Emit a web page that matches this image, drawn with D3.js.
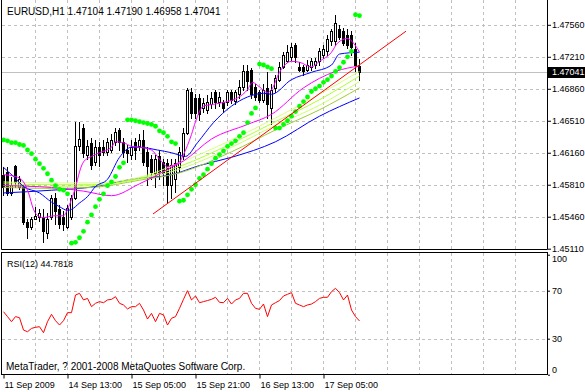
<!DOCTYPE html>
<html>
<head>
<meta charset="utf-8">
<script src="https://cdn.jsdelivr.net/npm/d3@7"></script>
<style>
  body { margin: 0; background: #fff; }
  text { font-family: 'Liberation Sans', Arial, sans-serif; font-size: 10px; fill: #000; }
  .small text, text.small { font-size: 9px; }
</style>
</head>
<body>
<svg id="chart" width="585" height="392"></svg>
<script>
const symbol = 'EURUSD,H1';

// hourly bars, 11 Sep 21:00 .. 17 Sep 14:00
const open = [
  1.4592, 1.4595, 1.4572, 1.4601, 1.4578, 1.4578, 1.4540, 1.4535, 1.4544, 1.4546,
  1.4546, 1.4528, 1.4546, 1.4567, 1.4554, 1.4546, 1.4535, 1.4546, 1.4567, 1.4623,
  1.4643, 1.4614, 1.4627, 1.4606, 1.4622, 1.4622, 1.4617, 1.4619, 1.4628, 1.4641,
  1.4628, 1.4619, 1.4614, 1.4628, 1.4623, 1.4630, 1.4617, 1.4609, 1.4594, 1.4612,
  1.4606, 1.4605, 1.4581, 1.4587, 1.4600, 1.4612, 1.4638, 1.4682, 1.4676, 1.4676,
  1.4665, 1.4663, 1.4669, 1.4682, 1.4671, 1.4671, 1.4671, 1.4683, 1.4673, 1.4680,
  1.4688, 1.4705, 1.4707, 1.4688, 1.4682, 1.4674, 1.4687, 1.4665, 1.4687, 1.4696,
  1.4710, 1.4716, 1.4721, 1.4734, 1.4710, 1.4710, 1.4707, 1.4710, 1.4712, 1.4716,
  1.4723, 1.4727, 1.4738, 1.4738, 1.4751, 1.4749, 1.4745, 1.4745, 1.4729, 1.47104
];
const high = [
  1.4600, 1.4600, 1.4589, 1.4603, 1.4591, 1.4581, 1.4543, 1.4546, 1.4557, 1.4554,
  1.4554, 1.4550, 1.4570, 1.4572, 1.4559, 1.4552, 1.4559, 1.4570, 1.4650, 1.4650,
  1.4647, 1.4630, 1.4632, 1.4630, 1.4628, 1.4630, 1.4632, 1.4636, 1.4643, 1.4643,
  1.4632, 1.4625, 1.4630, 1.4632, 1.4636, 1.4641, 1.4622, 1.4614, 1.4614, 1.4619,
  1.4609, 1.4609, 1.4609, 1.4609, 1.4622, 1.4643, 1.4687, 1.4687, 1.4680, 1.4680,
  1.4676, 1.4679, 1.4683, 1.4685, 1.4682, 1.4674, 1.4685, 1.4685, 1.4685, 1.4696,
  1.4712, 1.4712, 1.4709, 1.4691, 1.4685, 1.4691, 1.4704, 1.4691, 1.4701, 1.4715,
  1.4726, 1.4734, 1.4736, 1.4736, 1.4715, 1.4712, 1.4718, 1.4720, 1.4720, 1.4731,
  1.4734, 1.4745, 1.4751, 1.4767, 1.4756, 1.4753, 1.4751, 1.4749, 1.4736, 1.47190
];
const low = [
  1.4570, 1.4570, 1.4570, 1.4579, 1.4576, 1.4538, 1.4523, 1.4533, 1.4543, 1.4541,
  1.4518, 1.4523, 1.4543, 1.4538, 1.4534, 1.4532, 1.4534, 1.4543, 1.4565, 1.4619,
  1.4611, 1.4609, 1.4598, 1.4603, 1.4601, 1.4614, 1.4614, 1.4617, 1.4625, 1.4619,
  1.4611, 1.4606, 1.4609, 1.4609, 1.4619, 1.4603, 1.4581, 1.4587, 1.4579, 1.4587,
  1.4581, 1.4561, 1.4567, 1.4573, 1.4595, 1.4609, 1.4636, 1.4654, 1.4654, 1.4652,
  1.4661, 1.4659, 1.4665, 1.4665, 1.4667, 1.4661, 1.4668, 1.4670, 1.4669, 1.4676,
  1.4685, 1.4685, 1.4676, 1.4674, 1.4671, 1.4671, 1.4654, 1.4647, 1.4683, 1.4694,
  1.4709, 1.4715, 1.4718, 1.4715, 1.4705, 1.4701, 1.4705, 1.4707, 1.4709, 1.4712,
  1.4720, 1.4723, 1.4734, 1.4734, 1.4740, 1.4734, 1.4731, 1.4723, 1.4705, 1.46958
];
const close = [
  1.4578, 1.4572, 1.4581, 1.4584, 1.4587, 1.4540, 1.4535, 1.4544, 1.4547, 1.4550,
  1.4530, 1.4543, 1.4567, 1.4552, 1.4538, 1.4538, 1.4556, 1.4567, 1.4623, 1.4631,
  1.4616, 1.4623, 1.4603, 1.4622, 1.4614, 1.4617, 1.4628, 1.4630, 1.4639, 1.4628,
  1.4617, 1.4616, 1.4622, 1.4619, 1.4630, 1.4606, 1.4601, 1.4595, 1.4609, 1.4595,
  1.4594, 1.4581, 1.4603, 1.4605, 1.4617, 1.4638, 1.4685, 1.4660, 1.4660, 1.4658,
  1.4670, 1.4672, 1.4676, 1.4671, 1.4677, 1.4665, 1.4683, 1.4674, 1.4683, 1.4688,
  1.4705, 1.4694, 1.4680, 1.4677, 1.4674, 1.4685, 1.4669, 1.4685, 1.4698, 1.4710,
  1.4723, 1.4726, 1.4732, 1.4721, 1.4707, 1.4705, 1.4712, 1.4716, 1.4716, 1.4727,
  1.4729, 1.4740, 1.4749, 1.4758, 1.4743, 1.4736, 1.4734, 1.4732, 1.4712, 1.47041
];

// Parabolic SAR, one dot per bar
const sar = [
  1.4630, 1.4629, 1.4627, 1.4627, 1.4625, 1.4624, 1.4619, 1.4615, 1.4609, 1.4604,
  1.4599, 1.4593, 1.4586, 1.4580, 1.4576, 1.4575, 1.4571, 1.4517, 1.4518, 1.4523,
  1.4530, 1.4540, 1.4548, 1.4557, 1.4565, 1.4571, 1.4580, 1.4584, 1.4590, 1.4600,
  1.4605, 1.4652, 1.4652, 1.4651, 1.4650, 1.4649, 1.4648, 1.4647, 1.4645, 1.4640,
  1.4638, 1.4634, 1.4628, 1.4626, 1.4563, 1.4564, 1.4570, 1.4576, 1.4581, 1.4588,
  1.4592, 1.4598, 1.4604, 1.4610, 1.4614, 1.4618, 1.4623, 1.4626, 1.4629, 1.4634,
  1.4638, 1.4649, 1.4659, 1.4665, 1.4713, 1.4712, 1.4710, 1.4708, 1.4643, 1.4643,
  1.4647, 1.4651, 1.4656, 1.4661, 1.4667, 1.4672, 1.4677, 1.4683, 1.4686, 1.4689,
  1.4693, 1.4696, 1.4700, 1.4705, 1.4709, 1.4715, 1.4721, 1.4727, 1.4767, 1.4766
];

const rsi = [
  52.5, 48.4, 44.2, 48.4, 47.5, 37.2, 35.8, 38.6, 39.5, 40.0,
  35.0, 44.2, 50.3, 45.0, 41.4, 45.0, 51.7, 51.7, 66.4, 67.8,
  62.3, 63.6, 56.7, 59.5, 60.9, 60.0, 62.3, 62.8, 65.0, 59.5,
  58.1, 54.8, 56.7, 56.7, 59.5, 53.9, 46.4, 51.1, 44.2, 51.1,
  49.8, 41.4, 47.0, 48.4, 55.3, 62.8, 70.0, 62.3, 65.6, 60.0,
  60.9, 61.8, 62.8, 64.5, 60.3, 60.0, 63.6, 58.9, 62.3, 63.6,
  67.8, 67.8, 59.5, 55.3, 54.5, 58.9, 48.4, 58.1, 60.0, 61.8,
  65.6, 67.0, 68.4, 59.5, 58.1, 56.7, 58.1, 58.9, 60.9, 63.6,
  64.5, 64.5, 69.2, 72.0, 68.4, 62.3, 66.4, 53.9, 48.4, 44.7818
];

// moving averages as [bar, price]
const maMagentaFast = [
  [0, 1.4592], [3, 1.4590], [5, 1.4584], [6.25, 1.4572], [7.5, 1.4554], [9, 1.4546],
  [10, 1.4545], [12.5, 1.4547], [15, 1.4547], [16, 1.4554], [17, 1.4565], [18, 1.4578],
  [19, 1.4595], [20, 1.4606], [22, 1.4612], [24, 1.4616], [27, 1.4622], [28, 1.4628],
  [30, 1.4627], [32, 1.4623], [34, 1.4622], [37, 1.4619], [39, 1.4609], [41, 1.4601],
  [44, 1.4606], [45, 1.4614], [47, 1.4636], [48, 1.4650], [50, 1.4667], [52.5, 1.4669],
  [56, 1.4672], [58.5, 1.4676], [61, 1.4685], [62.25, 1.4693], [64, 1.4688], [66, 1.4682],
  [67, 1.4685], [69, 1.4704], [72, 1.4716], [74, 1.4715], [77, 1.4710], [79, 1.4716],
  [82, 1.4726], [83.5, 1.4736], [86, 1.4741], [87.5, 1.4736], [89, 1.4726]
];
const maBlueMid = [
  [0, 1.4600], [2.5, 1.4590], [5, 1.4579], [9, 1.4572], [12, 1.4562], [14, 1.4557],
  [16, 1.4553], [17, 1.4554], [19, 1.4561], [21, 1.4568], [23, 1.4579], [26, 1.4587],
  [29, 1.4611], [32, 1.4622], [34, 1.4622], [38.5, 1.4619], [42, 1.4616], [45.5, 1.4612],
  [48.5, 1.4627], [52.5, 1.4649], [57, 1.4667], [61, 1.4677], [65, 1.4681], [67, 1.4680],
  [72, 1.4696], [77, 1.4704], [82, 1.4712], [84, 1.4724], [89, 1.4726]
];
const maMagentaSlow = [
  [0, 1.4580], [12, 1.4578], [20, 1.4574], [27, 1.4569], [34, 1.4582], [42, 1.4600],
  [45, 1.4607], [52, 1.4631], [61, 1.4647], [67, 1.4658], [75, 1.4687], [83, 1.4705], [89, 1.4711]
];
const maGreen1 = [[0, 1.4584], [12, 1.4583], [22, 1.4583], [34, 1.4589], [44, 1.4605], [57, 1.4630], [68, 1.4654], [79, 1.4680], [89, 1.4705]];
const maGreen2 = [[0, 1.4582], [12, 1.4581], [22, 1.4581], [34, 1.4588], [44, 1.4601], [57, 1.4626], [68, 1.4650], [79, 1.4674], [89, 1.4700]];
const maGreen3 = [[0, 1.4580], [12, 1.4579], [22, 1.4580], [34, 1.4587], [44, 1.4598], [57, 1.4622], [68, 1.4646], [79, 1.4668], [89, 1.4694]];
const maGreen4 = [[0, 1.4578], [12, 1.4577], [22, 1.4578], [34, 1.4586], [44, 1.4594], [57, 1.4617], [68, 1.4641], [79, 1.4663], [89, 1.4687]];
const maBlueSlow = [
  [0, 1.4572], [12, 1.4575], [23, 1.4579], [32, 1.4587], [42, 1.4592], [49, 1.4602],
  [57, 1.4611], [68, 1.4628], [79, 1.4656], [89, 1.4676]
];
const trendLine = [[37.5, 1.4549], [100.75, 1.4749]];

const priceTicks = [1.47560, 1.47210, 1.46860, 1.46510, 1.46160, 1.45810, 1.45460, 1.45110];
const rsiTicks = [100, 70, 30, 0];
const rsiGrid = [70, 30];
const timeBars = [0, 16, 32, 48, 64, 80];
const timeLabels = ['11 Sep 2009', '14 Sep 13:00', '15 Sep 05:00', '15 Sep 21:00', '16 Sep 13:00', '17 Sep 05:00'];

const svg = d3.select('#chart');
const left = 2, right = 548;
const mainBottom = 250, rsiTop = 253, rsiBottom = 375;

const x = d3.scaleLinear().domain([0, 136.25]).range([3, right]);
const y = d3.scaleLinear().domain([1.4511, 1.4756]).range([248.7, 24.8]);
const yR = d3.scaleLinear().domain([0, 100]).range([374.7, 254.7]);
const crisp = v => Math.round(v) + 0.5;
const fmt5 = d3.format('.5f');

svg.append('rect').attr('width', 585).attr('height', 392).attr('fill', '#fff');

svg.append('clipPath').attr('id', 'main-clip')
  .append('rect').attr('x', left).attr('y', 0).attr('width', right - left).attr('height', mainBottom);
svg.append('clipPath').attr('id', 'rsi-clip')
  .append('rect').attr('x', left).attr('y', rsiTop).attr('width', right - left).attr('height', rsiBottom - rsiTop);

// grid
const grid = svg.append('g')
  .attr('stroke', '#c0c0c0')
  .attr('stroke-dasharray', '3,3')
  .attr('fill', 'none');

const vBars = d3.range(8, 137, 8);
grid.selectAll('.vmain').data(vBars).join('line')
  .attr('x1', d => crisp(x(d))).attr('x2', d => crisp(x(d)))
  .attr('y1', 0).attr('y2', mainBottom);
grid.selectAll('.vrsi').data(vBars).join('line')
  .attr('x1', d => crisp(x(d))).attr('x2', d => crisp(x(d)))
  .attr('y1', rsiTop).attr('y2', rsiBottom);
grid.selectAll('.hmain').data(priceTicks).join('line')
  .attr('x1', left).attr('x2', right)
  .attr('y1', d => crisp(y(d))).attr('y2', d => crisp(y(d)));
grid.selectAll('.hrsi').data(rsiGrid).join('line')
  .attr('x1', left).attr('x2', right)
  .attr('y1', d => crisp(yR(d))).attr('y2', d => crisp(yR(d)));

const last = close.length - 1;
const main = svg.append('g').attr('clip-path', 'url(#main-clip)');

// bid line
main.append('line')
  .attr('x1', left).attr('x2', right)
  .attr('y1', crisp(y(close[last]))).attr('y2', crisp(y(close[last])))
  .attr('stroke', '#c0c0c0');

// candles
const bars = d3.range(close.length);
const candle = main.append('g').selectAll('g').data(bars).join('g');

candle.append('line')
  .attr('x1', i => x(i) + 0.5).attr('x2', i => x(i) + 0.5)
  .attr('y1', i => Math.round(y(high[i]))).attr('y2', i => Math.round(y(low[i])) + 1)
  .attr('stroke', '#000');

candle.append('rect')
  .attr('x', i => x(i) - 0.5)
  .attr('width', 2)
  .attr('y', i => crisp(y(Math.max(open[i], close[i]))))
  .attr('height', i => Math.round(y(Math.min(open[i], close[i]))) - Math.round(y(Math.max(open[i], close[i]))))
  .attr('fill', i => close[i] >= open[i] ? '#fff' : '#000')
  .attr('stroke', '#000');

// indicators
const maLine = d3.line()
  .x(d => x(d[0]) + 0.5)
  .y(d => y(d[1]))
  .curve(d3.curveMonotoneX);

const maSeries = [
  { data: maBlueSlow, color: '#0000ff' },
  { data: maGreen4, color: '#9acd32' },
  { data: maGreen3, color: '#ccff66' },
  { data: maGreen2, color: '#adff2f' },
  { data: maGreen1, color: '#d8ff7a' },
  { data: maMagentaSlow, color: '#ff00ff' },
  { data: maBlueMid, color: '#0000ff' },
  { data: maMagentaFast, color: '#ff00ff' }
];

main.append('g').selectAll('path').data(maSeries).join('path')
  .attr('d', d => maLine(d.data))
  .attr('fill', 'none')
  .attr('stroke', d => d.color)
  .attr('stroke-width', 1);

main.append('g').selectAll('circle').data(bars).join('circle')
  .attr('cx', i => x(i) + 0.5)
  .attr('cy', i => y(sar[i]))
  .attr('r', 2.4)
  .attr('fill', '#00ff00');

main.append('line')
  .attr('x1', x(trendLine[0][0])).attr('y1', y(trendLine[0][1]))
  .attr('x2', x(trendLine[1][0])).attr('y2', y(trendLine[1][1]))
  .attr('stroke', '#ff0000')
  .attr('stroke-width', 1);

// RSI window
svg.append('g').attr('clip-path', 'url(#rsi-clip)')
  .append('path')
  .datum(rsi)
  .attr('d', d3.line().x((d, i) => x(i) + 0.5).y(d => yR(d)))
  .attr('fill', 'none')
  .attr('stroke', '#ff0000');

// frames
svg.append('path')
  .attr('d', `M${left - 0.5},0V${mainBottom - 0.5}H${right - 0.5}V0`)
  .attr('fill', 'none').attr('stroke', '#000');
svg.append('rect')
  .attr('x', left - 0.5).attr('y', rsiTop - 0.5)
  .attr('width', right - left).attr('height', rsiBottom - rsiTop)
  .attr('fill', 'none').attr('stroke', '#000');

// axes
const priceAxis = svg.append('g')
  .attr('class', 'small')
  .attr('transform', `translate(${right},0)`)
  .call(d3.axisRight(y).tickValues(priceTicks).tickFormat(fmt5).tickSize(3).tickPadding(1));
priceAxis.select('.domain').remove();
priceAxis.selectAll('text').attr('font-size', null).attr('font-family', null);

const rsiAxis = svg.append('g')
  .attr('class', 'small')
  .attr('transform', `translate(${right},0)`)
  .call(d3.axisRight(yR).tickValues(rsiTicks).tickSize(2).tickPadding(2));
rsiAxis.select('.domain').remove();
rsiAxis.selectAll('text').attr('font-size', null).attr('font-family', null)
  .attr('dy', d => d === 100 ? '0.75em' : d === 0 ? '-0.25em' : '0.32em');

const timeAxis = svg.append('g')
  .attr('class', 'small')
  .attr('transform', `translate(0,${rsiBottom - 0.5})`)
  .call(d3.axisBottom(x).tickValues(timeBars).tickFormat((d, i) => timeLabels[i]).tickSize(4).tickPadding(3));
timeAxis.select('.domain').remove();
timeAxis.selectAll('.tick line').attr('transform', 'translate(0.5,0)');
timeAxis.selectAll('text').attr('font-size', null).attr('font-family', null)
  .attr('text-anchor', 'start').attr('x', 1);

// bid label
const bidY = y(close[last]);
svg.append('rect')
  .attr('x', right).attr('y', Math.round(bidY) - 5)
  .attr('width', 585 - right).attr('height', 11)
  .attr('fill', '#000');
svg.append('text')
  .attr('class', 'small')
  .attr('x', right + 4).attr('y', bidY).attr('dy', '0.35em')
  .style('fill', '#fff')
  .text(fmt5(close[last]));

// captions
svg.append('text').attr('x', 7).attr('y', 15)
  .text(`${symbol}  ${fmt5(open[last])} ${fmt5(high[last])} ${fmt5(low[last])} ${fmt5(close[last])}`);
svg.append('text').attr('class', 'small').attr('x', 7).attr('y', 267)
  .text(`RSI(12) ${d3.format('.4f')(rsi[last])}`);
svg.append('text').attr('x', 6).attr('y', 370)
  .text('MetaTrader, ? 2001-2008 MetaQuotes Software Corp.');
</script>
</body>
</html>
